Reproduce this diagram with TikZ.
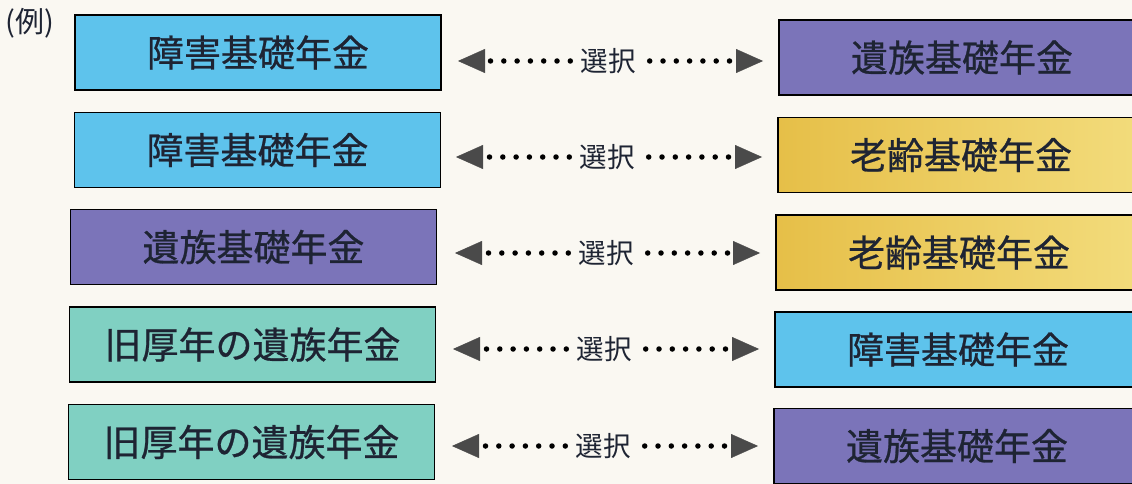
\documentclass[tikz,border=0pt]{standalone}
\usepackage{fontspec}
\setmainfont{Noto Sans CJK JP}
\newfontfamily\boxfont{Noto Sans CJK JP}[FakeBold=0.7]
\usetikzlibrary{arrows.meta}
\definecolor{bgc}{HTML}{FAF8F2}
\definecolor{bluec}{HTML}{5EC3EC}
\definecolor{purplec}{HTML}{7B74B9}
\definecolor{tealc}{HTML}{80D0C2}
\definecolor{yelL}{HTML}{E6BF48}
\definecolor{yelR}{HTML}{F3DC7C}
\definecolor{txtc}{HTML}{1E2433}
\definecolor{tric}{HTML}{4A4A4A}
\tikzset{
  box/.style={draw=black, line width=1.8pt, rectangle, minimum width=366pt,
    minimum height=75pt, inner sep=0pt, text=txtc,
    font=\boxfont\fontsize{37}{40}\selectfont},
  blue/.style={box, fill=bluec},
  purple/.style={box, fill=purplec},
  teal/.style={box, fill=tealc},
  yellow/.style={box, left color=yelL, right color=yelR},
  choice/.style={inner sep=8pt, text=txtc, font=\fontsize{27.5}{30}\selectfont},
  dotline/.style={draw=black, line width=5.5pt, line cap=round,
    dash pattern=on 0pt off 13.3pt,
    -{Triangle[length=27pt,width=24pt,line width=0.4pt,color=tric]}}
}
\begin{document}
\begin{tikzpicture}[x=1pt,y=-1pt]
\useasboundingbox (0,0) rectangle (1132,484);
\clip (0,0) rectangle (1132,484);
\fill[bgc] (0,0) rectangle (1132,484);
\node[text=txtc, font=\fontsize{29}{32}\selectfont, inner sep=0pt] (rei) at (30,23) {(例)};
% left boxes
\node[blue]   (L1) at (258,52.5) {障害基礎年金};
\node[blue]   (L2) at (257.5,150) {障害基礎年金};
\node[purple] (L3) at (253.5,247) {遺族基礎年金};
\node[teal]   (L4) at (252.5,344.5) {旧厚年の遺族年金};
\node[teal]   (L5) at (251.5,442) {旧厚年の遺族年金};
% right boxes
\node[purple] (R1) at (962,57.5) {遺族基礎年金};
\node[yellow] (R2) at (961,155) {老齢基礎年金};
\node[yellow] (R3) at (959,252.5) {老齢基礎年金};
\node[blue]   (R4) at (958,349.5) {障害基礎年金};
\node[purple] (R5) at (957,446) {遺族基礎年金};
% choices
\node[choice] (S1) at (608,61) {選択};
\node[choice] (S2) at (607,157) {選択};
\node[choice] (S3) at (606,253) {選択};
\node[choice] (S4) at (604,349) {選択};
\node[choice] (S5) at (603,446) {選択};
\coordinate (a1) at (458,61);  \coordinate (b1) at (763,61);
\coordinate (a2) at (456,157); \coordinate (b2) at (762,157);
\coordinate (a3) at (455,253); \coordinate (b3) at (760,253);
\coordinate (a4) at (453,349); \coordinate (b4) at (759,349);
\coordinate (a5) at (452,446); \coordinate (b5) at (758,446);
\foreach \i in {1,...,5}{
  \draw[dotline] ([xshift=-2pt]S\i.west) -- (a\i);
  \draw[dotline] ([xshift=6pt]S\i.east) -- (b\i);
}
\end{tikzpicture}
\end{document}
